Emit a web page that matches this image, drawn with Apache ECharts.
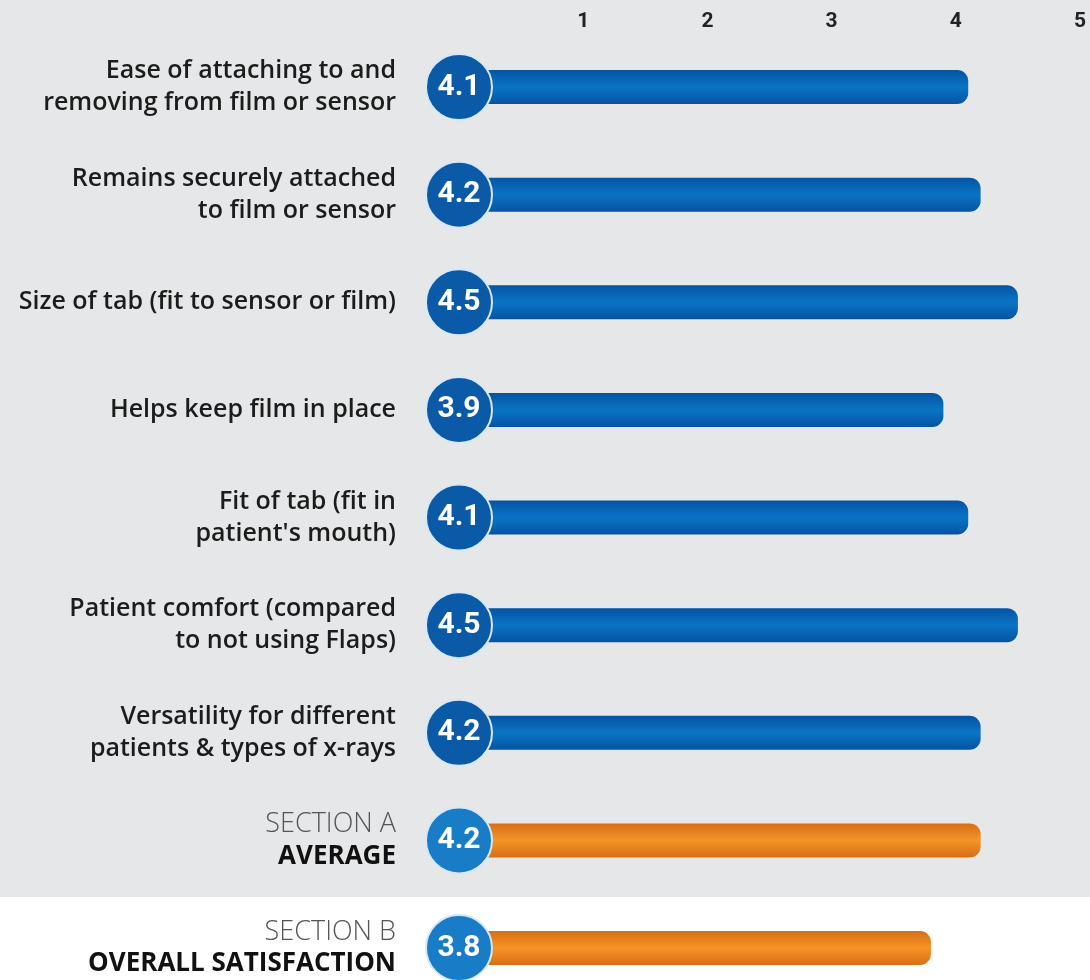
<!DOCTYPE html>
<html>
<head>
<meta charset="utf-8">
<script src="https://cdn.jsdelivr.net/npm/echarts@6/dist/echarts.min.js"></script>
<style>html,body{margin:0;padding:0;background:#fff}#c{width:1090px;height:980px}</style>
</head>
<body>
<div id="c"></div>
<script>
var categories = [
  "Ease of attaching to and\nremoving from film or sensor",
  "Remains securely attached\nto film or sensor",
  "Size of tab (fit to sensor or film)",
  "Helps keep film in place",
  "Fit of tab (fit in\npatient's mouth)",
  "Patient comfort (compared\nto not using Flaps)",
  "Versatility for different\npatients & types of x-rays",
  "SECTION A\nAVERAGE",
  "SECTION B\nOVERALL SATISFACTION"
];
var scores = [4.1, 4.2, 4.5, 3.9, 4.1, 4.5, 4.2, 4.2, 3.8];
var summaryRows = [false, false, false, false, false, false, false, true, true];
var tickLabels = ["", "1", "2", "3", "4", "5"];

var chart = echarts.init(document.getElementById('c'));

function grad(edge, mid) {
  return new echarts.graphic.LinearGradient(0, 0, 0, 1, [
    {offset: 0, color: edge}, {offset: 0.5, color: mid}, {offset: 1, color: edge}
  ]);
}
var blueBar = grad('#0553a3', '#0a74c4');
var orangeBar = grad('#d66f15', '#f59426');

var option = {
  backgroundColor: '#ffffff',
  animation: false,
  graphic: [{
    type: 'rect', z: -10, silent: true,
    shape: {x: 0, y: 0, width: 1090, height: 897},
    style: {fill: '#e6e7e8'}
  }],
  grid: {left: 459, right: 10, top: 87, bottom: 32, containLabel: false},
  xAxis: {
    type: 'value', min: 0, max: 5, interval: 1, position: 'top',
    axisLine: {show: false}, axisTick: {show: false}, splitLine: {show: false},
    axisLabel: {
      margin: 55,
      color: '#222', fontSize: 21, fontWeight: 'bold', fontFamily: 'Roboto',
      formatter: function (v) { return tickLabels[Math.round(v)]; }
    }
  },
  yAxis: {
    type: 'category', inverse: true, data: categories, boundaryGap: false,
    axisLine: {show: false}, axisTick: {show: false}, splitLine: {show: false},
    axisLabel: {
      margin: 63, align: 'right',
      formatter: function (val, idx) {
        var lines = val.split('\n');
        if (summaryRows[idx]) {
          return '{light|' + lines[0] + '}\n{bold|' + lines[1] + '}';
        }
        return lines.map(function (l) { return '{n|' + l + '}'; }).join('\n');
      },
      rich: {
        n: {fontFamily: 'Open Sans', fontSize: 25, color: '#1c1c1c', lineHeight: 32, fontWeight: 600},
        light: {fontFamily: 'Open Sans', fontSize: 27, color: '#555555', lineHeight: 32, fontWeight: 300},
        bold: {fontFamily: 'Open Sans', fontSize: 26, color: '#111111', lineHeight: 32, fontWeight: 'bold'}
      }
    }
  },
  series: [
    {
      type: 'bar', z: 2, barWidth: 34,
      data: scores.map(function (v, i) {
        return {
          value: v,
          itemStyle: {color: summaryRows[i] ? orangeBar : blueBar, borderRadius: [0, 11, 11, 0]}
        };
      })
    },
    {
      type: 'scatter', z: 5, symbol: 'circle', symbolSize: 66,
      data: scores.map(function (v, i) {
        return {
          value: [0, categories[i], v],
          itemStyle: {
            color: summaryRows[i] ? '#197cc6' : '#0b5aa8',
            borderColor: '#d6e8f7', borderWidth: 2, opacity: 1
          }
        };
      }),
      label: {
        show: true, position: 'inside', color: '#ffffff',
        fontFamily: 'Roboto', fontWeight: 'bold', fontSize: 30,
        formatter: function (p) { return p.value[2].toFixed(1); }
      }
    }
  ]
};
chart.setOption(option);
</script>
</body>
</html>
